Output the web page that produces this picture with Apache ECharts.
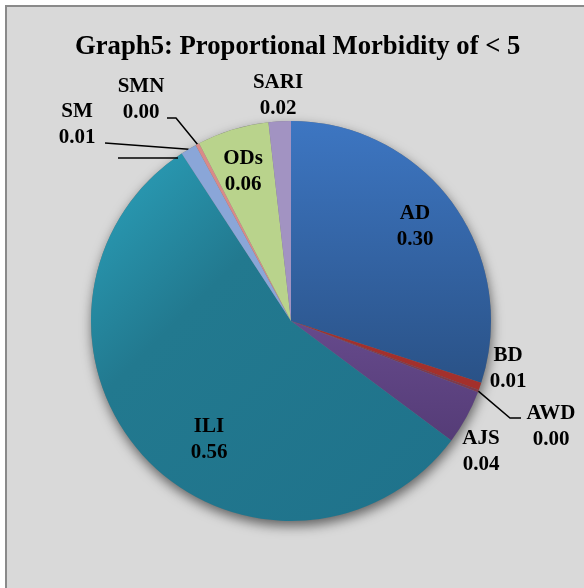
<!DOCTYPE html>
<html>
<head>
<meta charset="utf-8">
<script src="https://cdn.jsdelivr.net/npm/echarts@6/dist/echarts.min.js"></script>
<style>
html, body { margin: 0; padding: 0; background: #fff; }
#chart { width: 584px; height: 588px; }
</style>
</head>
<body>
<div id="chart"></div>
<script>
// ------------------ data ------------------
var categories = ['AD', 'BD', 'AWD', 'AJS', 'ILI', 'SM', 'SMN', 'ODs', 'SARI'];
var shares = [0.300, 0.006, 0.002, 0.044, 0.556, 0.013, 0.003, 0.058, 0.018];

var SERIF = '"Liberation Serif", "DejaVu Serif", serif';

function grad(c1, c2) {
    return new echarts.graphic.LinearGradient(0, 0, 0, 1, [
        {offset: 0, color: c1}, {offset: 1, color: c2}
    ]);
}
var colors = [
    grad('#3d76c2', '#2a5287'),
    '#a3302c',
    '#7e3a4c',
    grad('#664a8c', '#553c77'),
    new echarts.graphic.LinearGradient(0, 0, 1, 1, [
        {offset: 0, color: '#2ba3bd'}, {offset: 0.35, color: '#22798f'}, {offset: 1, color: '#1f728b'}
    ]),
    '#8aa6d8',
    '#d98a88',
    '#b9d38c',
    '#a293c2'
];

// label centres and leader lines
var labelPos = {
    AD: [415, 227], BD: [508, 369], AWD: [551, 427], AJS: [481, 452], ILI: [209, 440],
    SM: [77, 125], SMN: [141, 100], ODs: [243, 172], SARI: [278, 96]
};
var leaders = {
    AWD: function (p) { return [p, [510, 418], [521, 418]]; },
    SM: function (p) { return [p, [105, 143]]; },
    SMN: function (p) { return [p, [176, 118], [167, 118]]; }
};

var pieData = categories.map(function (c, i) {
    return {
        name: c,
        value: shares[i],
        itemStyle: {color: colors[i]},
        labelLine: {show: !!leaders[c]}
    };
});

var myChart = echarts.init(document.getElementById('chart'));
var option = {
    backgroundColor: '#fff',
    animation: false,
    graphic: [{
        type: 'rect',
        shape: {x: 6, y: 6, width: 640, height: 640},
        style: {fill: '#d9d9d9', stroke: '#8a8a8a', lineWidth: 2},
        z: -10
    }, {
        // stray leader stub under the SM label
        type: 'line',
        shape: {x1: 118, y1: 158, x2: 178, y2: 158},
        style: {stroke: '#000', lineWidth: 1.5},
        z: 5
    }],
    title: {
        text: 'Graph5: Proportional Morbidity of < 5',
        left: 70,
        top: 29,
        textStyle: {fontFamily: SERIF, fontWeight: 'bold', fontSize: 26.7, color: '#000'}
    },
    series: [{
        // shadow under the pie
        type: 'pie',
        silent: true,
        center: [291, 321],
        radius: 200,
        label: {show: false},
        labelLine: {show: false},
        data: [{value: shares.reduce(function (a, b) { return a + b; }, 0)}],
        itemStyle: {
            color: '#777',
            shadowBlur: 12,
            shadowOffsetY: 5,
            shadowOffsetX: 1,
            shadowColor: 'rgba(0,0,0,0.55)'
        },
        z: 1
    }, {
        type: 'pie',
        center: [291, 321],
        radius: 200,
        startAngle: 90,
        clockwise: true,
        avoidLabelOverlap: false,
        minAngle: 0,
        data: pieData,
        itemStyle: {borderWidth: 0},
        label: {
            show: true,
            position: 'outside',
            fontFamily: SERIF,
            fontWeight: 'bold',
            fontSize: 21,
            lineHeight: 26,
            color: '#000',
            align: 'center',
            formatter: function (p) {
                return p.name + '\n' + p.value.toFixed(2);
            }
        },
        labelLine: {
            lineStyle: {color: '#000', width: 1.5}
        },
        labelLayout: function (params) {
            var name = categories[params.dataIndex];
            var pos = labelPos[name];
            var out = {x: pos[0], y: pos[1], align: 'center', verticalAlign: 'middle'};
            if (leaders[name] && params.labelLinePoints) {
                out.labelLinePoints = leaders[name](params.labelLinePoints[0]);
            }
            return out;
        },
        emphasis: {disabled: true},
        z: 2
    }]
};
myChart.setOption(option);
</script>
</body>
</html>
